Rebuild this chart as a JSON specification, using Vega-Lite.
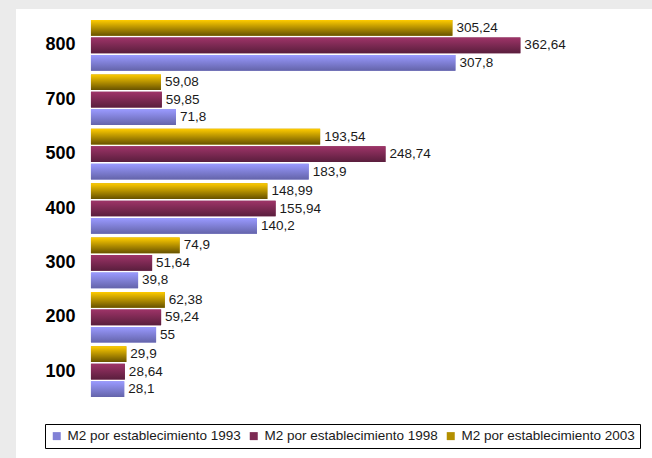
{
  "$schema": "https://vega.github.io/schema/vega-lite/v6.json",
  "width": 636,
  "height": 449,
  "autosize": "none",
  "padding": {"left": 16, "top": 9, "right": 0, "bottom": 0},
  "background": "#ebebeb",
  "config": {
    "view": {"fill": "white", "stroke": null},
    "font": "Liberation Sans",
    "locale": {"number": {"decimal": ",", "thousands": ".", "grouping": [3], "currency": ["", ""]}}
  },
  "data": {
    "values": [
      {"superficie": "800", "serie": "M2 por establecimiento 1993", "m2": 307.8},
      {"superficie": "800", "serie": "M2 por establecimiento 1998", "m2": 362.64},
      {"superficie": "800", "serie": "M2 por establecimiento 2003", "m2": 305.24},
      {"superficie": "700", "serie": "M2 por establecimiento 1993", "m2": 71.8},
      {"superficie": "700", "serie": "M2 por establecimiento 1998", "m2": 59.85},
      {"superficie": "700", "serie": "M2 por establecimiento 2003", "m2": 59.08},
      {"superficie": "500", "serie": "M2 por establecimiento 1993", "m2": 183.9},
      {"superficie": "500", "serie": "M2 por establecimiento 1998", "m2": 248.74},
      {"superficie": "500", "serie": "M2 por establecimiento 2003", "m2": 193.54},
      {"superficie": "400", "serie": "M2 por establecimiento 1993", "m2": 140.2},
      {"superficie": "400", "serie": "M2 por establecimiento 1998", "m2": 155.94},
      {"superficie": "400", "serie": "M2 por establecimiento 2003", "m2": 148.99},
      {"superficie": "300", "serie": "M2 por establecimiento 1993", "m2": 39.8},
      {"superficie": "300", "serie": "M2 por establecimiento 1998", "m2": 51.64},
      {"superficie": "300", "serie": "M2 por establecimiento 2003", "m2": 74.9},
      {"superficie": "200", "serie": "M2 por establecimiento 1993", "m2": 55},
      {"superficie": "200", "serie": "M2 por establecimiento 1998", "m2": 59.24},
      {"superficie": "200", "serie": "M2 por establecimiento 2003", "m2": 62.38},
      {"superficie": "100", "serie": "M2 por establecimiento 1993", "m2": 28.1},
      {"superficie": "100", "serie": "M2 por establecimiento 1998", "m2": 28.64},
      {"superficie": "100", "serie": "M2 por establecimiento 2003", "m2": 29.9}
    ]
  },
  "encoding": {
    "y": {
      "field": "superficie",
      "type": "nominal",
      "sort": ["800", "700", "500", "400", "300", "200", "100"],
      "scale": {"range": [11, 388], "paddingInner": 0.069, "paddingOuter": 0},
      "axis": {
        "title": null,
        "ticks": false,
        "tickSize": 0,
        "domain": false,
        "grid": false,
        "offset": -59,
        "labelPadding": 0,
        "labelAlign": "right",
        "labelFont": "Liberation Sans",
        "labelFontSize": 18,
        "labelFontWeight": "bold",
        "labelColor": "#000000"
      }
    },
    "yOffset": {
      "field": "serie",
      "type": "nominal",
      "sort": ["M2 por establecimiento 2003", "M2 por establecimiento 1998", "M2 por establecimiento 1993"],
      "scale": {"paddingInner": 0.1, "paddingOuter": 0}
    },
    "x": {
      "field": "m2",
      "type": "quantitative",
      "scale": {"domain": [-63.3, 473.8], "nice": false, "zero": false},
      "axis": null
    }
  },
  "layer": [
    {
      "mark": {"type": "bar"},
      "encoding": {
        "x2": {"datum": 0},
        "color": {
          "field": "serie",
          "type": "nominal",
          "scale": {
            "domain": ["M2 por establecimiento 1993", "M2 por establecimiento 1998", "M2 por establecimiento 2003"],
            "range": ["#8181d6", "#7c2a53", "#b38f00"]
          },
          "legend": {
            "title": null,
            "orient": "none",
            "legendX": 29,
            "legendY": 415,
            "direction": "horizontal",
            "symbolType": "square",
            "symbolSize": 64,
            "symbolStrokeWidth": 0,
            "symbolOpacity": 1,
            "labelFont": "Liberation Sans",
            "labelFontSize": 13.5,
            "labelColor": "#1a1a1a",
            "labelLimit": 400,
            "labelOffset": 4,
            "columnPadding": 6,
            "padding": 5,
            "strokeColor": "#000000",
            "fillColor": "#ffffff"
          }
        }
      }
    },
    {
      "mark": {"type": "bar", "opacity": 1},
      "encoding": {
        "x2": {"datum": 0},
        "color": {
          "condition": [
            {"test": "datum.serie === 'M2 por establecimiento 1993'", "value": {"gradient": "linear", "x1": 0, "y1": 0, "x2": 0, "y2": 1, "stops": [{"offset": 0, "color": "#9a9aff"}, {"offset": 1, "color": "#6464aa"}]}},
            {"test": "datum.serie === 'M2 por establecimiento 1998'", "value": {"gradient": "linear", "x1": 0, "y1": 0, "x2": 0, "y2": 1, "stops": [{"offset": 0, "color": "#9e3468"}, {"offset": 1, "color": "#5a1e3d"}]}}
          ],
          "value": {"gradient": "linear", "x1": 0, "y1": 0, "x2": 0, "y2": 1, "stops": [{"offset": 0, "color": "#ffcc00"}, {"offset": 1, "color": "#675200"}]}
        }
      }
    },
    {
      "mark": {"type": "text", "align": "left", "baseline": "middle", "dx": 4, "fontSize": 13.5, "font": "Liberation Sans", "color": "#1a1a1a"},
      "encoding": {
        "text": {"field": "m2", "type": "quantitative", "format": "~r"}
      }
    }
  ]
}
